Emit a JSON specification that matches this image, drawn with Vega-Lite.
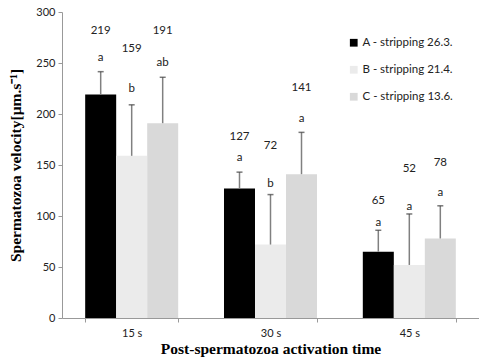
{
  "$schema": "https://vega.github.io/schema/vega-lite/v6.json",
  "width": 417,
  "height": 306,
  "autosize": {"type": "none"},
  "padding": {"left": 62, "top": 12, "right": 0, "bottom": 41},
  "background": "white",
  "config": {"view": {"stroke": null}, "font": "Lato"},
  "data": {
    "values": [
      {"time": "15 s", "group": "A - stripping 26.3.", "value": 219, "err": 241.5, "letter": "a", "letterY": 255, "num": "219", "numY": 281},
      {"time": "15 s", "group": "B - stripping 21.4.", "value": 159, "err": 209, "letter": "b", "letterY": 225, "num": "159", "numY": 264},
      {"time": "15 s", "group": "C - stripping 13.6.", "value": 191, "err": 236, "letter": "ab", "letterY": 250, "num": "191", "numY": 281},
      {"time": "30 s", "group": "A - stripping 26.3.", "value": 127, "err": 143, "letter": "a", "letterY": 156.5, "num": "127", "numY": 177},
      {"time": "30 s", "group": "B - stripping 21.4.", "value": 72, "err": 121, "letter": "b", "letterY": 131.4, "num": "72", "numY": 168.6},
      {"time": "30 s", "group": "C - stripping 13.6.", "value": 141, "err": 182, "letter": "a", "letterY": 195, "num": "141", "numY": 225.5},
      {"time": "45 s", "group": "A - stripping 26.3.", "value": 65, "err": 86, "letter": "a", "letterY": 93, "num": "65", "numY": 114.7},
      {"time": "45 s", "group": "B - stripping 21.4.", "value": 52, "err": 102, "letter": "a", "letterY": 109, "num": "52", "numY": 146},
      {"time": "45 s", "group": "C - stripping 13.6.", "value": 78, "err": 110, "letter": "a", "letterY": 122.5, "num": "78", "numY": 152}
    ]
  },
  "encoding": {
    "x": {
      "field": "time", "type": "nominal",
      "scale": {"paddingInner": 0.33, "paddingOuter": 0.167},
      "axis": {
        "title": "Post-spermatozoa activation time",
        "titleFont": "Liberation Serif", "titleFontSize": 15.5, "titleFontWeight": "bold", "titleColor": "#000",
        "titlePadding": 3,
        "labelAngle": 0, "labelFontSize": 11, "labelColor": "#222", "labelPadding": 5,
        "tickBand": "extent", "tickSize": 4, "tickColor": "#999", "domainColor": "#999", "grid": false
      }
    },
    "xOffset": {"field": "group", "type": "nominal", "scale": {"paddingInner": 0, "paddingOuter": 0}}
  },
  "layer": [
    {
      "mark": {"type": "bar"},
      "encoding": {
        "y": {
          "field": "value", "type": "quantitative",
          "scale": {"domain": [0, 300], "nice": false},
          "axis": {
            "title": "Spermatozoa velocity[μm.s⁻¹]",
            "titleFont": "Liberation Serif", "titleFontSize": 15.5, "titleFontWeight": "bold", "titleColor": "#000",
            "titlePadding": 12,
            "values": [0, 50, 100, 150, 200, 250, 300],
            "labelFontSize": 11, "labelColor": "#222", "labelPadding": 3,
            "tickSize": 4, "tickColor": "#999", "domainColor": "#999", "grid": false
          }
        },
        "color": {
          "field": "group", "type": "nominal",
          "scale": {"range": ["#000000", "#ebebeb", "#d9d9d9"]},
          "legend": {
            "title": null, "orient": "none", "legendX": 286, "legendY": 25,
            "symbolType": "square", "symbolSize": 60, "symbolStrokeWidth": 0,
            "labelFontSize": 11.5, "labelColor": "#222", "rowPadding": 14, "labelOffset": 3
          }
        }
      }
    },
    {
      "mark": {"type": "rule", "color": "#808080", "strokeWidth": 1.5},
      "encoding": {
        "y": {"field": "value", "type": "quantitative"},
        "y2": {"field": "err"}
      }
    },
    {
      "mark": {"type": "tick", "orient": "horizontal", "color": "#404040", "size": 6, "thickness": 1.5},
      "encoding": {
        "y": {"field": "err", "type": "quantitative"}
      }
    },
    {
      "mark": {"type": "text", "fontSize": 11.5, "color": "#222", "baseline": "middle"},
      "encoding": {
        "y": {"field": "letterY", "type": "quantitative"},
        "text": {"field": "letter"}
      }
    },
    {
      "mark": {"type": "text", "fontSize": 11.5, "color": "#222", "baseline": "middle"},
      "encoding": {
        "y": {"field": "numY", "type": "quantitative"},
        "text": {"field": "num"}
      }
    }
  ]
}
